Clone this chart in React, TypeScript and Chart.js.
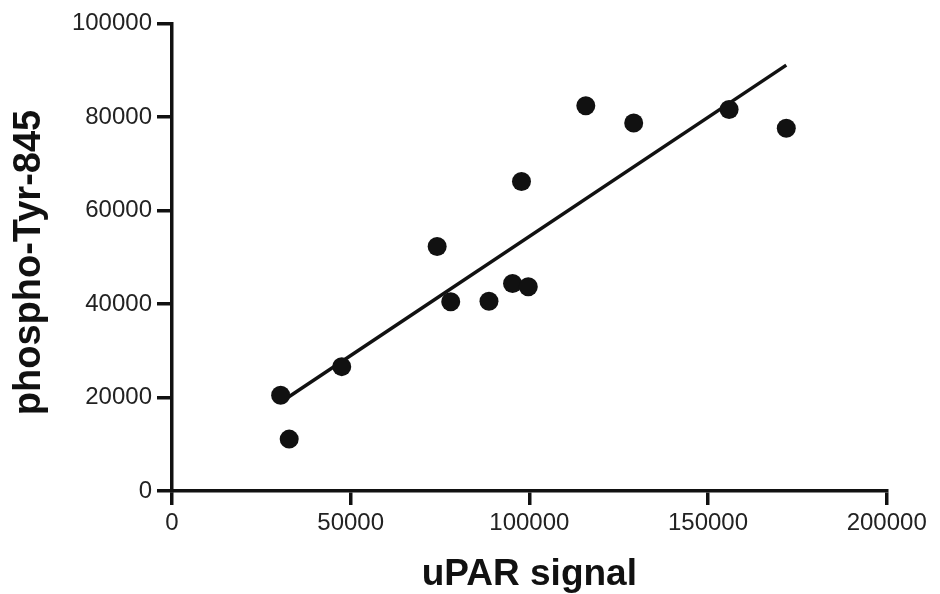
import React, { useEffect, useRef } from "react";
import { Chart, registerables } from "chart.js";

Chart.register(...registerables);

// uPAR signal (x) vs phospho-Tyr-845 (y)
const uparSignal = [30400, 32800, 47500, 74200, 78000, 88700, 95300, 97800, 99700, 115800, 129200, 155900, 171900];
const phosphoTyr845 = [20500, 11100, 26600, 52300, 40500, 40600, 44400, 66200, 43700, 82400, 78700, 81600, 77600];

// regression line end points
const fitX = [30400, 171900];
const fitY = [19000, 91100];

const xTicks = [0, 50000, 100000, 150000, 200000];
const yTicks = [0, 20000, 40000, 60000, 80000, 100000];

const FONT = "'Liberation Sans', Arial, Helvetica, sans-serif";
const INK = "#111111";

export default function App() {
  const ref = useRef<HTMLCanvasElement | null>(null);

  useEffect(() => {
    if (!ref.current) return;
    const points = uparSignal.map((x, i) => ({ x, y: phosphoTyr845[i] }));
    const fit = fitX.map((x, i) => ({ x, y: fitY[i] }));

    const chart = new Chart(ref.current, {
      type: "scatter",
      data: {
        datasets: [
          {
            label: "fit",
            data: fit,
            showLine: true,
            borderColor: INK,
            borderWidth: 3.5,
            pointRadius: 0,
            pointHoverRadius: 0,
            order: 2,
          } as any,
          {
            label: "data",
            data: points,
            backgroundColor: INK,
            borderColor: INK,
            borderWidth: 0,
            pointRadius: 9.5,
            pointHoverRadius: 9.5,
            order: 1,
          },
        ],
      },
      options: {
        responsive: false,
        animation: false,
        events: [],
        layout: { padding: { top: 23.5, right: 53.3, left: 0, bottom: 0 } },
        plugins: {
          legend: { display: false },
          tooltip: { enabled: false },
          title: { display: false },
        },
        scales: {
          x: {
            type: "linear",
            min: 0,
            max: 200000,
            afterFit: (s: any) => {
              s.height = 103;
            },
            afterBuildTicks: (s: any) => {
              s.ticks = xTicks.map((v) => ({ value: v }));
            },
            border: { display: true, color: INK, width: 3.5 },
            grid: {
              drawOnChartArea: false,
              drawTicks: true,
              tickLength: 14,
              tickColor: INK,
              tickWidth: 3.5,
              color: INK,
              lineWidth: 3.5,
            },
            ticks: {
              color: "#222222",
              font: { family: FONT, size: 24 },
              padding: 4,
              maxRotation: 0,
              autoSkip: false,
              callback: (v: any) => String(v),
            },
            title: {
              display: true,
              text: "uPAR signal",
              color: INK,
              font: { family: FONT, size: 37, weight: "bold", lineHeight: 1 },
              padding: { top: 0, bottom: 1 },
            },
          },
          y: {
            type: "linear",
            min: 0,
            max: 100000,
            afterFit: (s: any) => {
              s.width = 172;
            },
            afterBuildTicks: (s: any) => {
              s.ticks = yTicks.map((v) => ({ value: v }));
            },
            border: { display: true, color: INK, width: 3.5 },
            grid: {
              drawOnChartArea: false,
              drawTicks: true,
              tickLength: 15,
              tickColor: INK,
              tickWidth: 3.5,
              color: INK,
              lineWidth: 3.5,
            },
            ticks: {
              color: "#222222",
              font: { family: FONT, size: 24 },
              padding: 5,
              autoSkip: false,
              callback: (v: any) => String(v),
            },
            title: {
              display: true,
              text: "phospho-Tyr-845\u00a0",
              color: INK,
              font: { family: FONT, size: 38, weight: "bold", lineHeight: 1 },
              padding: { top: 10.5, bottom: 0 },
            },
          },
        },
      },
    });
    return () => chart.destroy();
  }, []);

  return (
    <div style={{ position: "absolute", left: 0, top: 0, width: 940, height: 594, background: "#ffffff" }}>
      <canvas ref={ref} width={940} height={594} style={{ display: "block" }} />
    </div>
  );
}
